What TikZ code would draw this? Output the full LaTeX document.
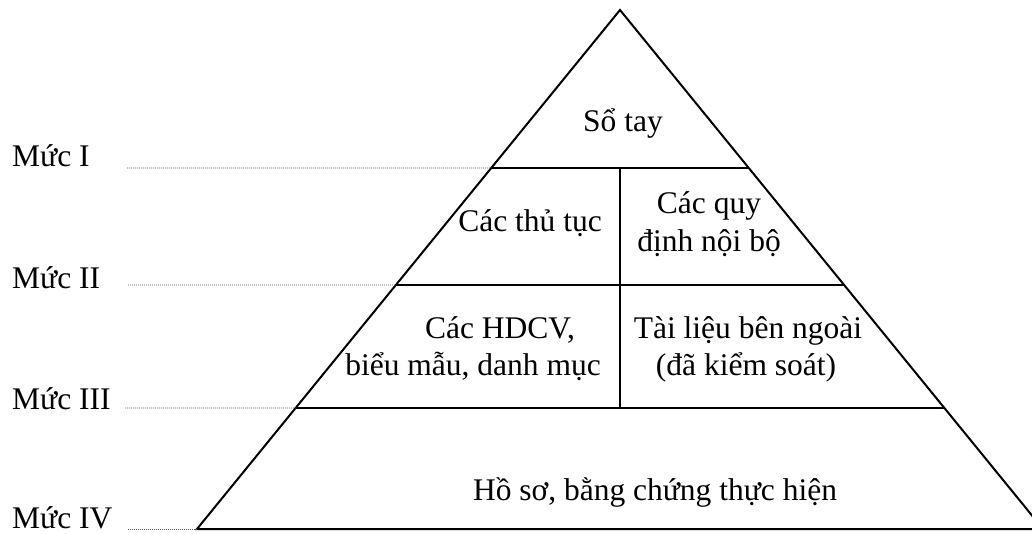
\documentclass[tikz,border=0pt]{standalone}
\usepackage{fontspec}
\setmainfont{Liberation Serif}
\usetikzlibrary{calc}
\begin{document}
\begin{tikzpicture}[x=1pt,y=-1pt,
  edge/.style={line width=2pt,line cap=butt,line join=miter},
  guide/.style={line width=0.9pt,gray!70!black,dash pattern=on 1pt off 1pt},
  lbl/.style={anchor=base,inner sep=0pt,font=\fontsize{31.5}{37}\selectfont},
  lvl/.style={anchor=base west,inner sep=0pt,font=\fontsize{31.5}{37}\selectfont}]
\useasboundingbox (0,0) rectangle (1032,534);
\coordinate (apex) at (620,10);
\coordinate (bl) at (197,529);
\coordinate (br) at (1043,529);
\coordinate (l1) at ($(apex)!0.3044!(bl)$);
\coordinate (r1) at ($(apex)!0.3044!(br)$);
\coordinate (l2) at ($(apex)!0.5299!(bl)$);
\coordinate (r2) at ($(apex)!0.5299!(br)$);
\coordinate (l3) at ($(apex)!0.7669!(bl)$);
\coordinate (r3) at ($(apex)!0.7669!(br)$);
\coordinate (vtop) at (620,168);
\coordinate (vbot) at (620,408);
\begin{scope}
\clip (0,0) rectangle (1032,534);
\draw[edge] (bl) -- (apex) -- (br) -- cycle;
\draw[edge] (l1) -- (r1);
\draw[edge] (l2) -- (r2);
\draw[edge] (l3) -- (r3);
\draw[edge] (vtop) -- (vbot);
\end{scope}
% level labels and guides
\node[lvl] (m1) at (12,167) {Mức I};
\node[lvl] (m2) at (12,288) {Mức II};
\node[lvl] (m3) at (12,409) {Mức III};
\node[lvl] (m4) at (12,528) {Mức IV};
\coordinate (g1) at (127,168);
\coordinate (g2) at (128,285);
\coordinate (g3) at (125,408);
\coordinate (g4) at (128,529);
\draw[guide] (g1) -- (l1);
\draw[guide] (g2) -- (l2);
\draw[guide] (g3) -- (l3);
\draw[guide] (g4) -- (bl);
% contents
\node[lbl] (sotay) at (623,132) {Sổ tay};
\node[lbl] (thutuc) at (530,232) {Các thủ tục};
\node[lbl] (quy1) at (709,214) {Các quy};
\node[lbl] (quy2) at (709,252) {định nội bộ};
\node[lbl] (hd1) at (500,338) {Các HDCV,};
\node[lbl] (hd2) at (473,375) {biểu mẫu, danh mục};
\node[lbl] (tl1) at (748,338) {Tài liệu bên ngoài};
\node[lbl] (tl2) at (746,375) {(đã kiểm soát)};
\node[lbl] (hoso) at (655,500) {Hồ sơ, bằng chứng thực hiện};
\end{tikzpicture}
\end{document}
